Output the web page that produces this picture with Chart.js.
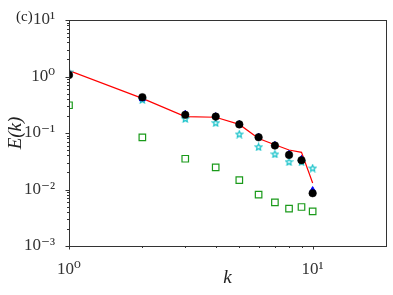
<!DOCTYPE html>
<html>
<head>
<meta charset="utf-8">
<script src="https://cdn.jsdelivr.net/npm/chart.js@4.4.1/dist/chart.umd.min.js"></script>
<style>
  html, body { margin: 0; padding: 0; background: #fff; }
</style>
</head>
<body>
<canvas id="spec" width="393" height="295"></canvas>
<script>
// wavenumbers and spectra
const k = [1, 2, 3, 4, 5, 6, 7, 8, 9, 10];
const fitLine   = [1.27, 0.41, 0.195, 0.19, 0.142, 0.080, 0.062, 0.050, 0.0455, 0.0130];
const circles   = [1.06, 0.43, 0.21, 0.195, 0.142, 0.084, 0.060, 0.041, 0.033, 0.0086];
const triangles = [1.15, 0.40, 0.22, 0.20, 0.146, 0.087, 0.062, 0.043, 0.035, 0.0098];
const stars     = [1.20, 0.39, 0.18, 0.152, 0.096, 0.057, 0.0425, 0.031, 0.031, 0.024];
const squares   = [0.31, 0.084, 0.035, 0.0247, 0.0147, 0.0081, 0.0059, 0.0046, 0.0049, 0.0041];
const yDecades = [1e-3, 1e-2, 1e-1, 1, 10];
const xDecades = [1, 10];
const supLabels = { '-3': '10⁻³', '-2': '10⁻²', '-1': '10⁻¹', '0': '10⁰', '1': '10¹' };

const serif = "'Liberation Serif', 'DejaVu Serif', serif";
const pts = arr => k.map((x, i) => ({ x, y: arr[i] }));

function starImage(size, color) {
  const c = document.createElement('canvas');
  c.width = c.height = size;
  const g = c.getContext('2d');
  const cx = size / 2, cy = size / 2 + 0.4, R = size / 2 - 1, r = R * 0.45;
  g.beginPath();
  for (let i = 0; i < 10; i++) {
    const a = -Math.PI / 2 + i * Math.PI / 5;
    const rad = i % 2 ? r : R;
    g.lineTo(cx + rad * Math.cos(a), cy + rad * Math.sin(a));
  }
  g.closePath();
  g.strokeStyle = color;
  g.lineWidth = 1.2;
  g.stroke();
  return c;
}

// box + outward ticks like the matplotlib original
const frame = {
  id: 'frame',
  afterDatasetsDraw(chart) {
    const { ctx, chartArea: a, scales: { x, y } } = chart;
    ctx.save();
    ctx.strokeStyle = '#333';
    ctx.lineWidth = 1;
    ctx.strokeRect(a.left + 0.5, a.top + 0.5, a.right - a.left, a.bottom - a.top);
    const tick = (x1, y1, x2, y2) => { ctx.beginPath(); ctx.moveTo(x1, y1); ctx.lineTo(x2, y2); ctx.stroke(); };
    for (const v of yDecades) {
      const p = Math.round(y.getPixelForValue(v)) + 0.5;
      tick(a.left - 3.5, p, a.left, p);
      if (v < 10) for (let m = 2; m < 10; m++) {
        const q = Math.round(y.getPixelForValue(v * m)) + 0.5;
        tick(a.left - 2, q, a.left, q);
      }
    }
    for (const v of xDecades) {
      const p = Math.round(x.getPixelForValue(v)) + 0.5;
      tick(p, a.bottom, p, a.bottom + 3.5);
      for (let m = 2; m < 10; m++) {
        const q = Math.round(x.getPixelForValue(v * m)) + 0.5;
        if (q < a.right) tick(q, a.bottom, q, a.bottom + 2);
      }
    }
    ctx.fillStyle = '#222';
    ctx.font = '15px ' + serif;
    ctx.textBaseline = 'middle';
    ctx.fillText('(c)', 16, 17);
    ctx.restore();
  }
};

new Chart(document.getElementById('spec'), {
  type: 'scatter',
  data: {
    datasets: [
      { label: 'fit', type: 'line', data: pts(fitLine), borderColor: '#ff0000', borderWidth: 1.2,
        pointRadius: 0, fill: false, tension: 0, order: 5 },
      { label: 'squares', data: pts(squares), pointStyle: 'rect', pointRadius: 4.6,
        borderColor: '#1a9a1a', backgroundColor: 'rgba(0,0,0,0)', borderWidth: 1.2, order: 4 },
      { label: 'stars', data: pts(stars), pointStyle: starImage(9, '#10c0c8'), pointRadius: 4.5, order: 3 },
      { label: 'triangles', data: pts(triangles), pointStyle: 'triangle', pointRadius: 3.4,
        borderColor: '#0000ff', backgroundColor: '#0000ff', borderWidth: 1, order: 2 },
      { label: 'circles', data: pts(circles), pointStyle: 'circle', pointRadius: 3.8,
        borderColor: '#000', backgroundColor: '#000', borderWidth: 0.5, order: 1 }
    ]
  },
  options: {
    responsive: false,
    animation: false,
    events: [],
    layout: { padding: { left: 0, right: 7, top: 20, bottom: 0 } },
    plugins: { legend: { display: false }, tooltip: { enabled: false } },
    scales: {
      x: {
        type: 'logarithmic', min: 1, max: 20,
        grid: { display: false }, border: { display: false },
        afterBuildTicks: s => { s.ticks = xDecades.map(value => ({ value })); },
        afterFit: s => { s.height = 49; },
        ticks: {
          autoSkip: false, maxRotation: 0, padding: 5, color: '#333',
          font: { family: serif, size: 17 },
          callback: v => supLabels[String(Math.round(Math.log10(v)))]
        },
        title: { display: true, text: 'k', color: '#222', padding: { top: 0, bottom: 6 },
          font: { family: serif, size: 19, style: 'italic' } }
      },
      y: {
        type: 'logarithmic', min: 1e-3, max: 10,
        grid: { display: false }, border: { display: false },
        afterBuildTicks: s => { s.ticks = yDecades.map(value => ({ value })); },
        afterFit: s => { s.width = 69; },
        ticks: {
          autoSkip: false, padding: 6, color: '#333',
          font: { family: serif, size: 17 },
          callback: v => supLabels[String(Math.round(Math.log10(v)))]
        },
        title: { display: true, text: 'E(k)', color: '#222', padding: { top: 5, bottom: 0 },
          font: { family: serif, size: 19, style: 'italic' } }
      }
    }
  },
  plugins: [frame]
});
</script>
</body>
</html>
